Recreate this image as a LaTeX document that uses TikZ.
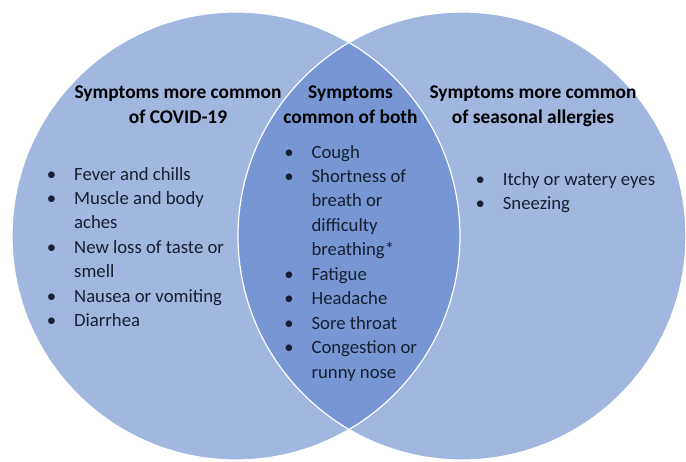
\documentclass[tikz,border=0pt]{standalone}
\usepackage{fontspec}
\setmainfont{Carlito}
\usepackage{tikz}

\definecolor{vennlight}{RGB}{161,183,223}
\definecolor{venndark}{RGB}{118,151,211}
\definecolor{symink}{RGB}{24,30,50}

\tikzset{
  vennring/.style={white, line width=1.2pt},
  grouphead/.style={anchor=base, inner sep=0pt, text=black,
    font=\fontsize{19.4}{24.5}\selectfont\bfseries},
  symlist/.style={anchor=base west, inner sep=0pt, text=symink,
    font=\fontsize{18.7}{24.45}\selectfont}
}

\begin{document}
\begin{tikzpicture}[x=1pt,y=-1pt]
\useasboundingbox (0,0) rectangle (686,461);
\fill[vennlight] (236,236) circle (224pt);
\fill[vennlight] (462,236) circle (224pt);
\begin{scope}
\clip (236,236) circle (224pt);
\fill[venndark] (462,236) circle (224pt);
\end{scope}
\draw[vennring] (236,236) circle (224pt);
\draw[vennring] (462,236) circle (224pt);

\node[grouphead] (covidhead) at (178,98.5) {\begin{tabular}[t]{@{}c@{}}Symptoms more common\\of COVID-19\end{tabular}};
\node[grouphead] (bothhead) at (350.5,98.5) {\begin{tabular}[t]{@{}c@{}}Symptoms\\common of both\end{tabular}};
\node[grouphead] (allergyhead) at (533,98.5) {\begin{tabular}[t]{@{}c@{}}Symptoms more common\\of seasonal allergies\end{tabular}};

\node[symlist] (covidlist) at (46.7,180) {\begin{tabular}[t]{@{}l@{\hspace{18pt}}l@{}}
\textbullet & Fever and chills\\
\textbullet & Muscle and body\\
 & aches\\
\textbullet & New loss of taste or\\
 & smell\\
\textbullet & Nausea or vomiting\\
\textbullet & Diarrhea
\end{tabular}};
\node[symlist] (bothlist) at (284.1,158) {\begin{tabular}[t]{@{}l@{\hspace{18pt}}l@{}}
\textbullet & Cough\\
\textbullet & Shortness of\\
 & breath or\\
 & difficulty\\
 & breathing*\\
\textbullet & Fatigue\\
\textbullet & Headache\\
\textbullet & Sore throat\\
\textbullet & Congestion or\\
 & runny nose
\end{tabular}};
\node[symlist] (allergylist) at (475.4,185) {\begin{tabular}[t]{@{}l@{\hspace{18pt}}l@{}}
\textbullet & Itchy or watery eyes\\
\textbullet & Sneezing
\end{tabular}};
\end{tikzpicture}
\end{document}
